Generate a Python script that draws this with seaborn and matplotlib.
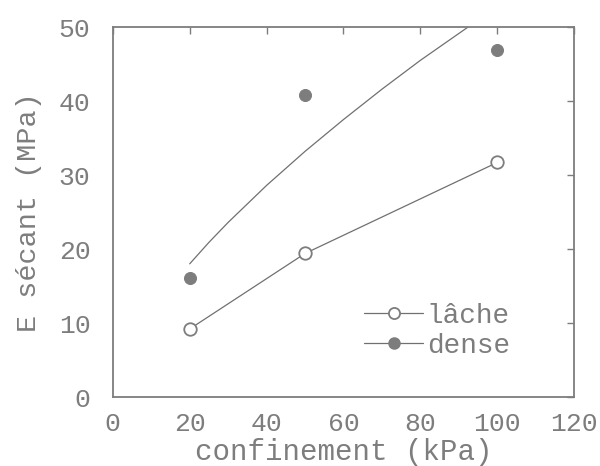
import numpy as np
import pandas as pd
import matplotlib
matplotlib.use("Agg")
import matplotlib.pyplot as plt
import seaborn as sns
from matplotlib.lines import Line2D

# data
confinement = [20, 50, 100]
lache = [9.2, 19.4, 31.7]
dense = [16.1, 40.8, 46.9]

# fitted curve for dense samples
dense_fit_x = [20, 25, 30, 40, 50, 60, 70, 80, 92.4]
dense_fit_y = [18.0, 20.9, 23.6, 28.6, 33.2, 37.5, 41.6, 45.5, 50.0]

sns.set_theme(style="white")
plt.rcParams['font.family'] = ['Liberation Mono', 'DejaVu Sans']

grey = "#7d7d7d"
dark = "#707070"

df_l = pd.DataFrame({"x": confinement, "y": lache})
df_d = pd.DataFrame({"x": confinement, "y": dense})
df_fit = pd.DataFrame({"x": dense_fit_x, "y": dense_fit_y})

fig, ax = plt.subplots(figsize=(6, 4.66), dpi=100)

sns.lineplot(data=df_fit, x="x", y="y", ax=ax, color=dark, lw=0.9)
sns.lineplot(data=df_l, x="x", y="y", ax=ax, color=dark, lw=0.9,
             marker="o", markersize=9, markerfacecolor="white",
             markeredgecolor=grey, markeredgewidth=1.3)
sns.scatterplot(data=df_d, x="x", y="y", ax=ax, color=grey, s=75,
                edgecolor=grey, zorder=5)

# legend handles
handles = [
    Line2D([], [], color=dark, lw=0.9, marker="o", markersize=8,
           markerfacecolor="white", markeredgecolor=grey, markeredgewidth=1.3),
    Line2D([], [], color=dark, lw=0.9, marker="o", markersize=8,
           markerfacecolor=grey, markeredgecolor=grey),
]
ax.legend(handles, ["lâche", "dense"], loc="lower right", frameon=False,
          fontsize=20, labelcolor=grey, handlelength=2.1, handletextpad=0.15,
          labelspacing=0.15, bbox_to_anchor=(0.915, 0.035))

ax.set_xlim(0, 120)
ax.set_ylim(0, 50)
ax.set_xticks(range(0, 121, 20))
ax.set_yticks(range(0, 51, 10))
ax.set_xlabel("confinement (kPa)", fontsize=21, color=grey, labelpad=1)
ax.set_ylabel("E sécant (MPa)", fontsize=20.5, color=grey, labelpad=12)
ax.tick_params(direction="in", length=5, width=1, colors=grey,
               labelsize=19, top=True, right=True, labelcolor=grey)
ax.tick_params(axis="y", pad=16)
ax.tick_params(axis="x", pad=11)
for s in ax.spines.values():
    s.set_color(grey)
    s.set_linewidth(1.3)

fig.subplots_adjust(left=0.188, right=0.957, top=0.942, bottom=0.148)
fig.savefig("out.png", dpi=100)
